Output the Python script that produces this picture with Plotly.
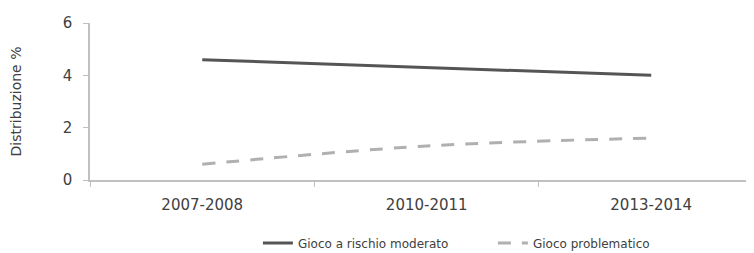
import plotly.graph_objects as go

categories = ["2007-2008", "2010-2011", "2013-2014"]
moderato = [4.6, 4.3, 4.0]
problematico = [0.6, 1.3, 1.6]
y_ticks = [0, 2, 4, 6]

fig = go.Figure()
fig.add_trace(go.Scatter(
    x=categories, y=moderato, mode="lines", name="Gioco a rischio moderato",
    line=dict(color="#555555", width=3)))
fig.add_trace(go.Scatter(
    x=categories, y=problematico, mode="lines", name="Gioco problematico",
    line=dict(color="#b0b0b0", width=3, dash="13px,11px", shape="spline")))

fig.update_layout(
    width=746, height=245,
    margin=dict(l=82, r=0, t=15, b=73, autoexpand=False),
    paper_bgcolor="white", plot_bgcolor="white",
    font=dict(family="DejaVu Sans, sans-serif", color="#404040", size=13),
    showlegend=True,
    legend=dict(orientation="h", xref="container", yref="container",
                x=0.335, xanchor="left", y=0.041, yanchor="middle",
                entrywidth=190,
                font=dict(size=12), tracegroupgap=0),
    xaxis=dict(type="category", range=[-0.5, 2.458], showgrid=False, automargin=False,
               showline=True, linecolor="#c0c0c0", linewidth=1.5,
               ticks="outside", tickson="boundaries", ticklen=5, tickcolor="#c0c0c0",
               ticklabelstandoff=10,
               tickfont=dict(size=15)),
    yaxis=dict(range=[0, 6], tickvals=y_ticks, showgrid=False, zeroline=False,
               automargin=False,
               showline=True, linecolor="#c0c0c0", linewidth=1.5,
               ticks="outside", ticklen=5, tickcolor="#c0c0c0",
               ticklabelstandoff=8,
               tickfont=dict(size=15),
               title=dict(text="Distribuzione %", font=dict(size=14), standoff=42)),
)

fig.write_html("out.html")
